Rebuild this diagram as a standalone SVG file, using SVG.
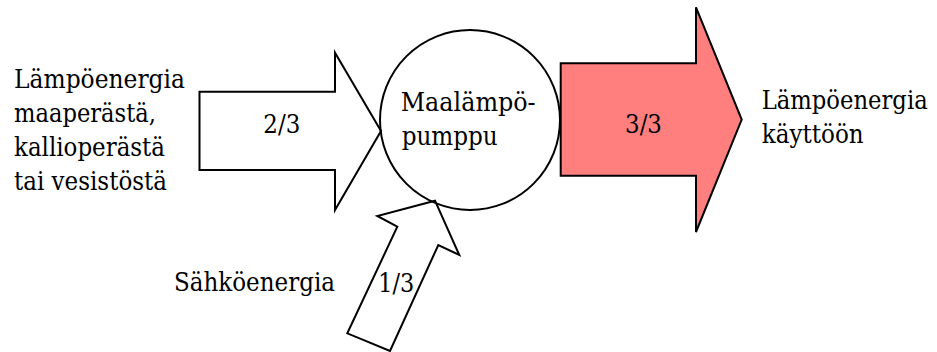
<svg xmlns="http://www.w3.org/2000/svg" width="937" height="352" viewBox="0 0 937 352">
  <style>
    .shape { stroke: #000; stroke-width: 2; stroke-linejoin: miter; }
    text { font-family: 'DejaVu Serif', 'Liberation Serif', serif; font-size: 26px; fill: #000; }
  </style>
  <rect width="937" height="352" fill="#fff"/>

  <g id="connectors">
    <!-- ground heat input arrow -->
    <g id="arrow-ground">
      <polygon class="shape" fill="#fff" points="199.5,91.7 335,91.7 335,52.7 381,131 335,210 335,170 199.5,170"/>
      <text x="263.3" y="133.3" textLength="37" lengthAdjust="spacingAndGlyphs">2/3</text>
    </g>
    <!-- electricity input arrow -->
    <g id="arrow-electricity">
      <polygon class="shape" fill="#fff" points="435,200.7 459.3,255 438.3,245 390,351 347.3,333.3 397.3,226.7 377.3,216"/>
      <text x="378.3" y="291.7" textLength="36" lengthAdjust="spacingAndGlyphs">1/3</text>
    </g>
    <!-- heat output arrow -->
    <g id="arrow-output">
      <polygon class="shape" fill="#ff7f7f" points="560.7,63.3 696,63.3 696,7.3 741.7,119.6 696,232 696,175.7 560.7,175.7"/>
      <text x="625" y="133.3" textLength="37" lengthAdjust="spacingAndGlyphs">3/3</text>
    </g>
  </g>

  <g id="heat-pump">
    <circle class="shape" fill="none" cx="470" cy="120" r="90"/>
    <text x="400.7" y="111" textLength="135" lengthAdjust="spacingAndGlyphs">Maalämpö-</text>
    <text x="401.7" y="145" textLength="96" lengthAdjust="spacingAndGlyphs">pumppu</text>
  </g>

  <g id="label-ground">
    <text x="14" y="88" textLength="171" lengthAdjust="spacingAndGlyphs">Lämpöenergia</text>
    <text x="14" y="122" textLength="142" lengthAdjust="spacingAndGlyphs">maaperästä,</text>
    <text x="14" y="156" textLength="151" lengthAdjust="spacingAndGlyphs">kallioperästä</text>
    <text x="14" y="190" textLength="153" lengthAdjust="spacingAndGlyphs">tai vesistöstä</text>
  </g>

  <g id="label-electricity">
    <text x="174" y="290.7" textLength="161" lengthAdjust="spacingAndGlyphs">Sähköenergia</text>
  </g>

  <g id="label-output">
    <text x="761.7" y="109.3" textLength="166" lengthAdjust="spacingAndGlyphs">Lämpöenergia</text>
    <text x="761.7" y="143.3" textLength="102" lengthAdjust="spacingAndGlyphs">käyttöön</text>
  </g>
</svg>
